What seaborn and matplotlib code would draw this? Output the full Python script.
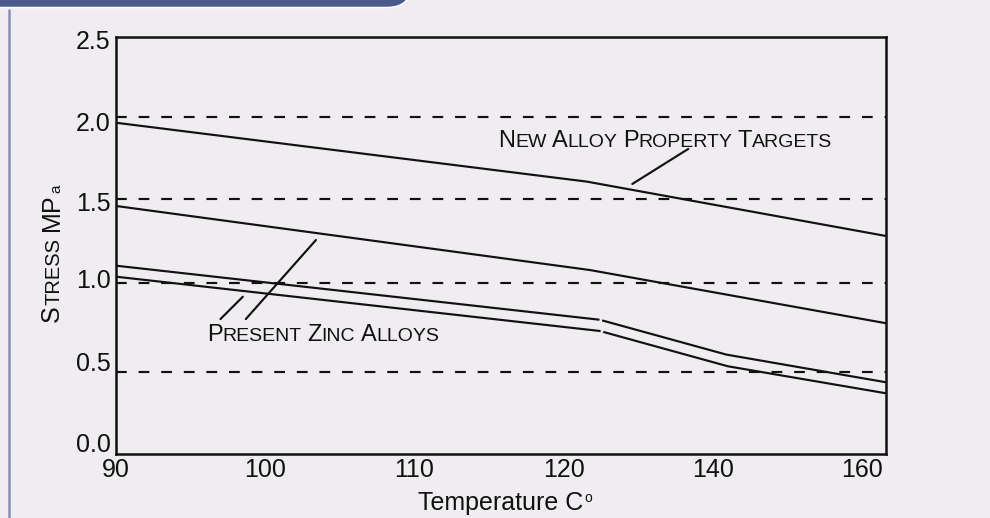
import numpy as np
import pandas as pd
import matplotlib
matplotlib.use("Agg")
import matplotlib.pyplot as plt
import seaborn as sns
from matplotlib.patches import FancyBboxPatch
from matplotlib.lines import Line2D
from matplotlib.transforms import IdentityTransform, ScaledTranslation

# ---------------- data ----------------
x_tick_temps = [90, 100, 110, 120, 140, 160]
x_tick_labels = ["90", "100", "110", "120", "140", "160"]
y_ticks = [0.0, 0.5, 1.0, 1.5, 2.0, 2.5]
y_tick_labels = ["0.0", "0.5", "1.0", "1.5", "2.0", "2.5"]

target_upper_temp = [90, 123.1, 163.2]
target_upper_stress = [1.986, 1.633, 1.307]
target_lower_temp = [90, 123.5, 163.2]
target_lower_stress = [1.487, 1.103, 0.784]

zinc_upper_a_temp = [90, 124.8]
zinc_upper_a_stress = [1.129, 0.805]
zinc_upper_b_temp = [125.15, 141.8, 163.2]
zinc_upper_b_stress = [0.801, 0.596, 0.430]
zinc_lower_a_temp = [90, 124.95]
zinc_lower_a_stress = [1.063, 0.737]
zinc_lower_b_temp = [125.3, 142.0, 163.2]
zinc_lower_b_stress = [0.732, 0.526, 0.364]

guide_levels = [2.022, 1.527, 1.023, 0.492]

label_targets = "New Alloy Property Targets"
label_zinc = "Present Zinc Alloys"

# ---------------- build long table ----------------
segments = [
    ("target_upper", target_upper_temp, target_upper_stress),
    ("target_lower", target_lower_temp, target_lower_stress),
    ("zinc_upper_a", zinc_upper_a_temp, zinc_upper_a_stress),
    ("zinc_upper_b", zinc_upper_b_temp, zinc_upper_b_stress),
    ("zinc_lower_a", zinc_lower_a_temp, zinc_lower_a_stress),
    ("zinc_lower_b", zinc_lower_b_temp, zinc_lower_b_stress),
]
rows = []
for name, ts, ss in segments:
    for t, s in zip(ts, ss):
        rows.append({"segment": name, "temp": t, "stress": s})
df = pd.DataFrame(rows)

# ---------------- style ----------------
sns.set_theme(style="white")
plt.rcParams["font.family"] = ["Liberation Sans", "DejaVu Sans"]
BG = "#efedf0"
INK = "#111111"

fig = plt.figure(figsize=(9.9, 5.18), dpi=100, facecolor=BG)
ax = fig.add_axes([116 / 990, (518 - 454) / 518, 770 / 990, 417 / 518])
ax.set_facecolor(BG)

# piecewise axis: tick temperatures are evenly spaced
knot_t = np.array([60, 90, 100, 110, 120, 140, 160, 200], dtype=float)
knot_p = np.array([-3, 0, 1, 2, 3, 4, 5, 7], dtype=float)


def fwd(t):
    return np.interp(t, knot_t, knot_p)


def inv(p):
    return np.interp(p, knot_p, knot_t)


sns.lineplot(data=df, x="temp", y="stress", units="segment", estimator=None,
             sort=False, color=INK, lw=1.55, ax=ax, legend=False)
for ln in ax.lines:
    ln.set_solid_capstyle("butt")

ax.set_xscale("function", functions=(fwd, inv))

for lev in guide_levels:
    ax.axhline(lev, color=INK, lw=1.55, linestyle=(0, (5, 5.5)), zorder=1)

ax.set_xlim(90, 163.2)
ax.set_ylim(0, 2.5)
ax.set_xticks(x_tick_temps)
ax.set_xticklabels(x_tick_labels)
ax.set_yticks(y_ticks)
ax.set_yticklabels(y_tick_labels)
ax.xaxis.set_minor_locator(matplotlib.ticker.NullLocator())
ax.tick_params(length=0, pad=4, labelsize=18, colors=INK)
ax.tick_params(axis="x", pad=3)
ax.set_xlabel("")
ax.set_ylabel("")
for sp in ax.spines.values():
    sp.set_visible(True)
    sp.set_color(INK)
    sp.set_linewidth(1.8)

# the hand-set y labels in the reference sit slightly off their gridlines
y_label_nudge_px = [11.5, 9, 9, 2, -1.3, -2]
for lab, dy in zip(ax.get_yticklabels(), y_label_nudge_px):
    lab.set_transform(lab.get_transform() + ScaledTranslation(0, dy / 100, fig.dpi_scale_trans))


# ---------------- small-caps helpers ----------------
def smallcaps_h(ax, x, y, text, big=17, small=14, gap=3.9):
    prev = None
    for wi, word in enumerate(text.split()):
        parts = [(word[0], big), (word[1:].upper(), small)]
        for j, (txt, size) in enumerate(parts):
            if not txt:
                continue
            if prev is None:
                t = ax.text(x, y, txt, fontsize=size, ha="left", va="baseline", color=INK)
            else:
                off = gap if (j == 0 and wi > 0) else 0
                t = ax.annotate(txt, xy=(1, y), xycoords=(prev, "data"),
                                xytext=(off, 0), textcoords="offset points",
                                fontsize=size, ha="left", va="baseline", color=INK,
                                annotation_clip=False)
            prev = t
    return prev


smallcaps_h(ax, 115.6, 1.842, label_targets)
smallcaps_h(ax, 96.1, 0.677, label_zinc)

# leader lines
leader = dict(arrowstyle="-", lw=1.55, color=INK, shrinkA=0, shrinkB=0)
ax.annotate("", xy=(129.2, 1.619), xytext=(136.7, 1.829), arrowprops=leader)
ax.annotate("", xy=(98.5, 0.943), xytext=(97.0, 0.809), arrowprops=leader)
ax.annotate("", xy=(103.4, 1.283), xytext=(98.7, 0.809), arrowprops=leader)

# y label: "Stress MPa" in small caps, rotated
yl_x = 59 / 990
yl_y = (518 - 322) / 518
pieces = [("S", 18, 0, 0), ("TRESS", 14.5, 0, 0), ("M", 18, 0, 5.0), ("P", 18, 0, 0), ("a", 11, 1.0, 0.5)]
prev = None
for txt, size, dx, gap in pieces:
    if prev is None:
        prev = fig.text(yl_x, yl_y, txt, fontsize=size, rotation=90, rotation_mode="anchor",
                        ha="left", va="baseline", color=INK)
    else:
        prev = ax.annotate(txt, xy=(yl_x, 1), xycoords=("figure fraction", prev),
                           xytext=(dx, gap), textcoords="offset points",
                           fontsize=size, rotation=90, rotation_mode="anchor",
                           ha="left", va="baseline", color=INK, annotation_clip=False)

# x label: "Temperature C°"
xl = fig.text(418 / 990, 8 / 518, "Temperature C", fontsize=18, ha="left", va="baseline", color=INK)
ax.annotate("o", xy=(1, 8 / 518), xycoords=(xl, "figure fraction"), xytext=(1, 6),
            textcoords="offset points", fontsize=10, ha="left", va="baseline", color=INK,
            annotation_clip=False)

# ---------------- decoration: blue tab and left rule ----------------
tab = FancyBboxPatch((-60, 518 - 7.5), 412 + 60, 80, boxstyle="round,pad=0,rounding_size=25",
                     transform=IdentityTransform(), facecolor="#4a5a8c", edgecolor="white",
                     linewidth=1.1, zorder=5)
fig.add_artist(tab)
fig.add_artist(Line2D([9, 9], [0, 508], transform=IdentityTransform(), color="#8c8fb8", lw=1.8))

fig.savefig("out.png", dpi=100, facecolor=BG)
